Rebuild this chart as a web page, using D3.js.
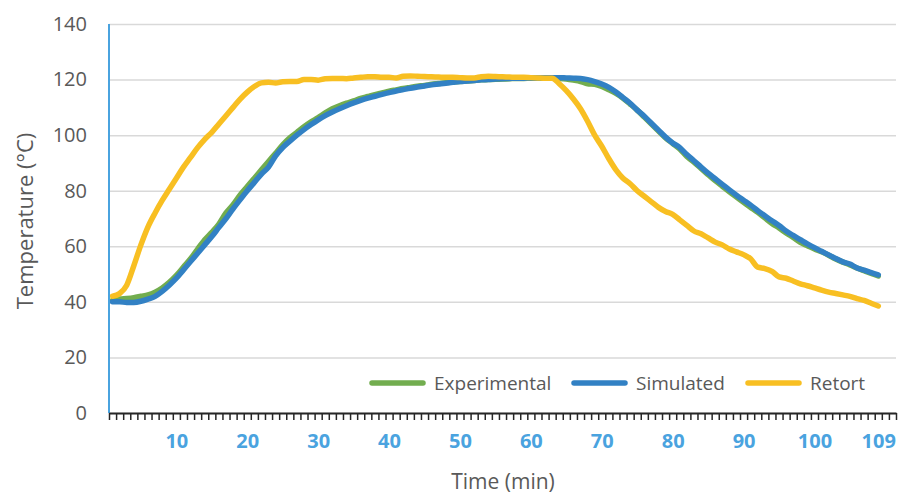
<!DOCTYPE html>
<html>
<head>
<meta charset="utf-8">
<script src="https://cdn.jsdelivr.net/npm/d3@7"></script>
<style>
  body { margin: 0; background: #fff; }
  text { font-family: "Open Sans", sans-serif; }
</style>
</head>
<body>
<svg id="chart" width="907" height="496"></svg>
<script>
// minutes 1..109, axis has room for 111 categories
var minutes = d3.range(1, 110);
var xLabels = [10, 20, 30, 40, 50, 60, 70, 80, 90, 100, 109];
var yTicks = [0, 20, 40, 60, 80, 100, 120, 140];
var seriesNames = ["Experimental", "Simulated", "Retort"];

var experimental = [40.5, 41, 41.2, 41.5, 42, 42.5, 43.5, 45, 47, 49.5,
  52.5, 55.5, 59, 62.3, 65, 68, 72, 75, 78.5, 81.5,
  84.5, 87.5, 90.5, 93.5, 96.5, 99, 101, 103, 104.8, 106.3,
  108, 109.5, 110.6, 111.5, 112.3, 113.2, 113.9, 114.6, 115.2, 115.8,
  116.3, 116.8, 117.2, 117.6, 117.9, 118.3, 118.6, 118.9, 119.1, 119.3,
  119.5, 119.7, 119.9, 120, 120.1, 120.2, 120.3, 120.4, 120.4, 120.5,
  120.5, 120.5, 120.5, 120.4, 120.2, 119.8, 119.3, 118.5, 118.3, 117.5,
  116.3, 115, 113.3, 111.2, 109, 106.5, 104, 101.5, 99, 97,
  95, 92.3, 90.3, 88, 85.8, 83.6, 81.6, 79.6, 77.7, 75.8,
  74, 72.2, 70.2, 68.2, 66.6, 64.8, 63.2, 61.4, 60.2, 59,
  58, 56.8, 55.4, 54.3, 53.3, 52.2, 51.2, 50.2, 49.3];

var simulated = [40, 40, 39.8, 39.8, 40.2, 41, 42, 43.8, 46, 48.5,
  51.5, 54.5, 57.5, 60.5, 63.5, 66.8, 70, 73.5, 76.8, 80,
  83, 86, 88.5, 92.5, 95.5, 97.8, 100, 102, 103.8, 105.5,
  107, 108.3, 109.5, 110.6, 111.6, 112.5, 113.3, 114, 114.7, 115.3,
  115.9, 116.4, 116.9, 117.3, 117.7, 118.1, 118.4, 118.7, 119, 119.3,
  119.5, 119.7, 119.9, 120, 120.2, 120.3, 120.4, 120.5, 120.5, 120.6,
  120.6, 120.7, 120.7, 120.7, 120.6, 120.5, 120.4, 120, 119.3, 118.4,
  117.2, 115.5, 113.5, 111.5, 109, 106.8, 104.3, 101.8, 99.3, 97.2,
  95.5, 93, 90.8, 88.5, 86.3, 84.3, 82.3, 80.3, 78.4, 76.6,
  74.8, 72.8, 71, 69.2, 67.5, 65.5, 63.9, 62.4, 60.9, 59.5,
  58.2, 56.9, 55.6, 54.4, 53.6, 52.2, 51.4, 50.5, 49.7];

var retort = [42, 43, 46, 53, 60.5, 67, 72, 76.5, 80.5, 84.5,
  88.5, 92, 95.5, 98.5, 101, 104, 107, 110, 113, 115.5,
  117.5, 118.8, 119, 118.8, 119.2, 119.3, 119.3, 120, 120, 119.8,
  120.3, 120.4, 120.4, 120.3, 120.6, 120.8, 121, 121, 120.8, 120.8,
  120.6, 121.2, 121.3, 121.2, 121.1, 121, 120.9, 120.8, 120.8, 120.7,
  120.6, 120.6, 121, 121.2, 121.1, 121, 120.9, 120.8, 120.8, 120.7,
  120.6, 120.5, 120.5, 118.5, 116, 113, 109.5, 105, 100, 96,
  91.5, 87.5, 84.5, 82.5, 80, 78, 76, 74, 72.5, 71.5,
  69.5, 67.5, 65.5, 64.5, 63, 61.5, 60.5, 59, 58, 57,
  55.5, 52.5, 52, 51, 49, 48.5, 47.5, 46.5, 45.8, 45,
  44.2, 43.5, 43, 42.5, 42, 41.2, 40.5, 39.5, 38.5];

var colors = ["#72ad4f", "#3281c4", "#f8bf22"];

var svg = d3.select("#chart");
var plotL = 109, plotR = 896, plotT = 24, plotB = 413;

var x = d3.scaleLinear().domain([0, 111]).range([plotL, plotR]);
var y = d3.scaleLinear().domain([0, 140]).range([plotB, plotT]);

// gridlines
var grid = svg.append("g").attr("transform", "translate(" + plotL + ",0)")
  .call(d3.axisRight(y).tickValues(yTicks).tickSize(plotR - plotL).tickFormat(""));
grid.select(".domain").remove();
grid.selectAll("line").attr("stroke", "#d9d9d9").attr("stroke-width", 1.5);

// y labels
var ya = svg.append("g").attr("transform", "translate(" + plotL + ",0)")
  .call(d3.axisLeft(y).tickValues(yTicks).tickSize(0).tickPadding(22));
ya.select(".domain").remove();
ya.selectAll("text").attr("fill", "#595959").style("font-size", "20px")
  .style("font-family", "'Open Sans', sans-serif");

// lines
var line = d3.line()
  .x(function(d, i) { return x(minutes[i] - 0.5); })
  .y(function(d) { return y(d); })
  .curve(d3.curveMonotoneX);

[experimental, simulated, retort].forEach(function(s, k) {
  svg.append("path").datum(s)
    .attr("fill", "none")
    .attr("stroke", colors[k])
    .attr("stroke-width", 5.5)
    .attr("stroke-linejoin", "round")
    .attr("stroke-linecap", "round")
    .attr("d", line);
});

// y axis line (blue)
svg.append("line").attr("x1", plotL).attr("x2", plotL).attr("y1", plotT).attr("y2", plotB)
  .attr("stroke", "#4aa3df").attr("stroke-width", 2);

// x axis: tick marks between categories
var xt = svg.append("g").attr("transform", "translate(0," + plotB + ")")
  .call(d3.axisBottom(x).tickValues(d3.range(0, 112)).tickSize(7).tickSizeOuter(0).tickFormat(""));
xt.select(".domain").attr("stroke", "#262626").attr("stroke-width", 2);
xt.selectAll("line").attr("stroke", "#262626").attr("stroke-width", 1.5);

// x labels at category centres
var xl = svg.append("g").attr("transform", "translate(0," + plotB + ")")
  .call(d3.axisBottom(x).tickValues(xLabels.map(function(v) { return v - 0.5; }))
    .tickSize(0).tickPadding(21).tickFormat(function(d) { return d + 0.5; }));
xl.select(".domain").remove();
xl.selectAll("text").attr("fill", "#4aa3df").style("font-size", "20px")
  .style("font-weight", "bold").style("font-family", "'Open Sans', sans-serif");

// axis titles
svg.append("text").attr("x", 503).attr("y", 489).attr("text-anchor", "middle")
  .attr("fill", "#595959").style("font-size", "21px").text("Time (min)");
svg.append("text").attr("transform", "translate(33,221) rotate(-90)")
  .attr("text-anchor", "middle").attr("fill", "#595959").style("font-size", "22px")
  .text("Temperature (°C)");

// legend
var legendX = [372, 574, 748];
seriesNames.forEach(function(n, k) {
  var g = svg.append("g").attr("transform", "translate(" + legendX[k] + ",383)");
  g.append("line").attr("x1", 0).attr("x2", 51).attr("y1", 0).attr("y2", 0)
    .attr("stroke", colors[k]).attr("stroke-width", 5.5).attr("stroke-linecap", "round");
  g.append("text").attr("x", 62).attr("y", 7).attr("fill", "#595959")
    .style("font-size", "19px").text(n);
});
</script>
</body>
</html>
